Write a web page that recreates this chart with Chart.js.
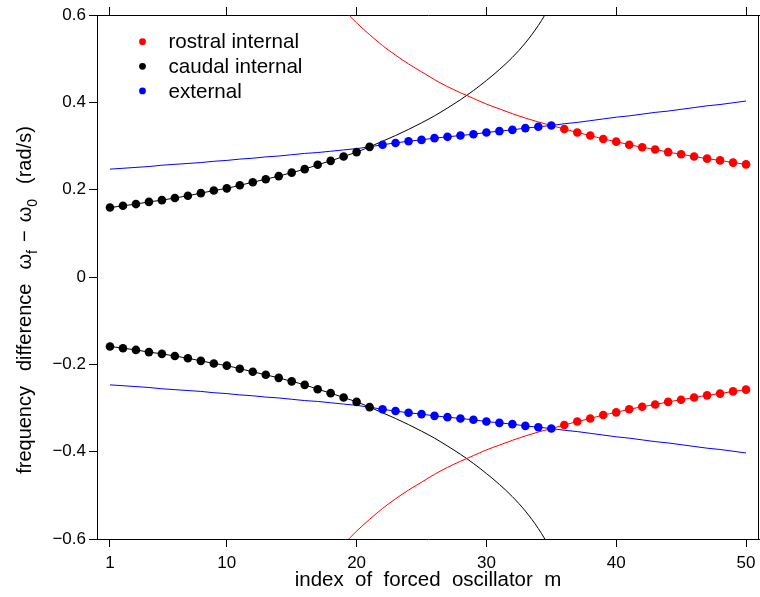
<!DOCTYPE html>
<html>
<head>
<meta charset="utf-8">
<title>frequency difference vs forced oscillator index</title>
<script src="https://cdn.jsdelivr.net/npm/chart.js@4.4.1/dist/chart.umd.min.js"></script>
<style>
  html, body { margin: 0; padding: 0; background: #fff; }
  #wrap { width: 760px; height: 597px; }
</style>
</head>
<body>
<div id="wrap"><canvas id="freqChart" width="760" height="597"></canvas></div>
<script>
'use strict';

// index of forced oscillator
var mIndex = [1,2,3,4,5,6,7,8,9,10,11,12,13,14,15,16,17,18,19,20,21,22,23,24,25,
              26,27,28,29,30,31,32,33,34,35,36,37,38,39,40,41,42,43,44,45,46,47,48,49,50];

// caudal internal branch, m = 1..35
var caudalUpper = [0.159,0.163,0.167,0.172,0.176,0.181,0.186,0.192,0.198,0.203,
                   0.210,0.217,0.224,0.231,0.239,0.247,0.257,0.266,0.276,0.286,
                   0.298,0.311,0.324,0.338,0.353,0.369,0.387,0.406,0.427,0.450,
                   0.475,0.503,0.536,0.576,0.625];
var caudalLower = [-0.159,-0.163,-0.167,-0.172,-0.176,-0.181,-0.186,-0.192,-0.198,-0.203,
                   -0.210,-0.217,-0.224,-0.231,-0.239,-0.247,-0.257,-0.266,-0.276,-0.286,
                   -0.298,-0.311,-0.324,-0.338,-0.353,-0.369,-0.387,-0.406,-0.427,-0.450,
                   -0.475,-0.503,-0.536,-0.576,-0.625];

// external branch, m = 1..50
var externalUpper = [0.247,0.249,0.251,0.253,0.256,0.258,0.260,0.262,0.265,0.267,
                     0.270,0.272,0.275,0.277,0.280,0.283,0.285,0.288,0.291,0.294,
                     0.298,0.303,0.307,0.311,0.314,0.318,0.321,0.324,0.327,0.331,
                     0.334,0.337,0.341,0.344,0.347,0.351,0.354,0.358,0.362,0.366,
                     0.369,0.373,0.377,0.380,0.384,0.388,0.392,0.395,0.399,0.403];
var externalLower = [-0.247,-0.249,-0.251,-0.253,-0.256,-0.258,-0.260,-0.262,-0.265,-0.267,
                     -0.270,-0.272,-0.275,-0.277,-0.280,-0.283,-0.285,-0.288,-0.291,-0.294,
                     -0.298,-0.303,-0.307,-0.311,-0.314,-0.318,-0.321,-0.324,-0.327,-0.331,
                     -0.334,-0.337,-0.341,-0.344,-0.347,-0.351,-0.354,-0.358,-0.362,-0.366,
                     -0.369,-0.373,-0.377,-0.380,-0.384,-0.388,-0.392,-0.395,-0.399,-0.403];

// rostral internal branch, m = 19..50
var rostralStart = 19;
var rostralUpper = [0.612,0.582,0.555,0.530,0.508,0.488,0.470,0.452,0.436,0.422,
                    0.409,0.396,0.385,0.374,0.364,0.355,0.347,0.339,0.331,0.324,
                    0.316,0.310,0.303,0.297,0.292,0.286,0.281,0.276,0.271,0.267,
                    0.262,0.258];
var rostralLower = [-0.612,-0.582,-0.555,-0.530,-0.508,-0.488,-0.470,-0.452,-0.436,-0.422,
                    -0.409,-0.396,-0.385,-0.374,-0.364,-0.355,-0.347,-0.339,-0.331,-0.324,
                    -0.316,-0.310,-0.303,-0.297,-0.292,-0.286,-0.281,-0.276,-0.271,-0.267,
                    -0.262,-0.258];

// which m values carry a dot for each branch
var caudalDots = [1, 21];
var externalDots = [22, 35];
var rostralDots = [36, 50];

// axis ticks
var xTicks = [1, 10, 20, 30, 40, 50];
var yTicks = [-0.6, -0.4, -0.2, 0, 0.2, 0.4, 0.6];

var seriesNames = ['rostral internal', 'caudal internal', 'external'];
var seriesColors = ['#ff0000', '#000000', '#0000ff'];

var FONT = '"Liberation Sans", Arial, Helvetica, sans-serif';

/*
 * turn a value list into {x, y} points, starting at index "start"
 */
function toPoints(start, values){
    var pts = [];
    for(var i = 0; i < values.length; i++){
        pts.push({x: mIndex[start - 1 + i], y: values[i]});
    }
    return pts;
}

function pickDots(points, range){
    return points.filter(function(p){ return p.x >= range[0] && p.x <= range[1]; });
}

function curve(points, color){
    return {
        type: 'scatter',
        data: points,
        showLine: true,
        borderColor: color,
        borderWidth: 1,
        pointRadius: 0,
        cubicInterpolationMode: 'monotone',
        order: 2
    };
}

function dots(points, color){
    return {
        type: 'scatter',
        data: points,
        showLine: false,
        backgroundColor: color,
        borderColor: color,
        pointRadius: 4.3,
        pointBorderWidth: 0,
        pointHoverRadius: 4.3,
        order: 1
    };
}

var cU = toPoints(1, caudalUpper), cL = toPoints(1, caudalLower);
var eU = toPoints(1, externalUpper), eL = toPoints(1, externalLower);
var rU = toPoints(rostralStart, rostralUpper), rL = toPoints(rostralStart, rostralLower);

var datasets = [
    curve(rU, seriesColors[0]), curve(rL, seriesColors[0]),
    curve(cU, seriesColors[1]), curve(cL, seriesColors[1]),
    curve(eU, seriesColors[2]), curve(eL, seriesColors[2]),
    dots(pickDots(rU, rostralDots), seriesColors[0]), dots(pickDots(rL, rostralDots), seriesColors[0]),
    dots(pickDots(cU, caudalDots), seriesColors[1]), dots(pickDots(cL, caudalDots), seriesColors[1]),
    dots(pickDots(eU, externalDots), seriesColors[2]), dots(pickDots(eL, externalDots), seriesColors[2])
];

// right frame line, legend inside the plot, y title with subscripts
var decorPlugin = {
    id: 'decor',
    afterDraw: function(chart){
        var ctx = chart.ctx;
        var a = chart.chartArea;
        ctx.save();

        // right edge of the box
        ctx.strokeStyle = '#000';
        ctx.lineWidth = 1;
        ctx.beginPath();
        ctx.moveTo(Math.round(a.right) - 0.5, a.top);
        ctx.lineTo(Math.round(a.right) - 0.5, a.bottom);
        ctx.stroke();

        // legend
        ctx.font = '20.6px ' + FONT;
        ctx.textBaseline = 'middle';
        ctx.textAlign = 'left';
        for(var i = 0; i < seriesNames.length; i++){
            var ly = 41.7 + i * 24.6;
            ctx.fillStyle = seriesColors[i];
            ctx.beginPath();
            ctx.arc(142.5, ly, 3.4, 0, Math.PI * 2);
            ctx.fill();
            ctx.fillStyle = '#000';
            ctx.fillText(seriesNames[i], 168.5, ly + 1);
        }

        // y axis title, rotated, with subscripts
        var parts = [
            {t: 'frequency', sub: false, gap: 15},
            {t: 'difference', sub: false, gap: 14},
            {t: '\u03c9', sub: false, gap: 0},
            {t: 'f', sub: true, gap: 8},
            {t: '\u2212', sub: false, gap: 8},
            {t: '\u03c9', sub: false, gap: 0},
            {t: '0', sub: true, gap: 15},
            {t: '(rad/s)', sub: false, gap: 0}
        ];
        var total = 0;
        parts.forEach(function(p){
            ctx.font = (p.sub ? '14px ' : '20px ') + FONT;
            p.w = ctx.measureText(p.t).width;
            total += p.w + p.gap;
        });
        ctx.translate(25, 300);
        ctx.rotate(-Math.PI / 2);
        ctx.fillStyle = '#000';
        ctx.textBaseline = 'middle';
        var x = -total / 2;
        parts.forEach(function(p){
            ctx.font = (p.sub ? '14px ' : '20px ') + FONT;
            ctx.fillText(p.t, x, p.sub ? 8 : 0);
            x += p.w + p.gap;
        });
        ctx.restore();
    }
};

var tickFont = {family: FONT, size: 17};

new Chart(document.getElementById('freqChart').getContext('2d'), {
    type: 'scatter',
    data: {datasets: datasets},
    options: {
        responsive: false,
        animation: false,
        devicePixelRatio: 1,
        layout: {autoPadding: false, padding: {left: 0, right: 1, top: 0, bottom: 0}},
        plugins: {
            legend: {display: false},
            tooltip: {enabled: false}
        },
        scales: {
            x: {
                type: 'linear',
                position: 'bottom',
                min: 0,
                max: 51,
                afterBuildTicks: function(scale){
                    scale.ticks = xTicks.map(function(v){ return {value: v}; });
                },
                afterFit: function(scale){
                    scale.height = 58;
                    scale.paddingLeft = 0;
                    scale.paddingRight = 0;
                },
                ticks: {font: tickFont, color: '#000', padding: 6, maxRotation: 0, autoSkip: false},
                grid: {drawOnChartArea: false, drawTicks: true, tickLength: 8, color: '#000', tickColor: '#000'},
                border: {display: true, color: '#000', width: 1},
                title: {
                    display: true,
                    text: 'index  of  forced  oscillator  m',
                    font: {family: FONT, size: 20.5},
                    color: '#000',
                    padding: {top: 0, bottom: 4}
                }
            },
            xTop: {
                type: 'linear',
                position: 'top',
                min: 0,
                max: 51,
                afterBuildTicks: function(scale){
                    scale.ticks = xTicks.map(function(v){ return {value: v}; });
                },
                afterFit: function(scale){
                    scale.height = 15;
                    scale.paddingLeft = 0;
                    scale.paddingRight = 0;
                },
                ticks: {display: false},
                grid: {drawOnChartArea: false, drawTicks: true, tickLength: 8, color: '#000', tickColor: '#000'},
                border: {display: true, color: '#000', width: 1}
            },
            y: {
                type: 'linear',
                position: 'left',
                min: -0.6,
                max: 0.6,
                afterBuildTicks: function(scale){
                    scale.ticks = yTicks.map(function(v){ return {value: v}; });
                },
                afterFit: function(scale){
                    scale.width = 97;
                    scale.paddingTop = 0;
                    scale.paddingBottom = 0;
                },
                ticks: {
                    font: tickFont,
                    color: '#000',
                    padding: 3,
                    callback: function(v){
                        if(Math.abs(v) < 1e-9) return '0';
                        return (v < 0 ? '\u2212' : '') + Math.abs(v).toFixed(1);
                    }
                },
                grid: {drawOnChartArea: false, drawTicks: true, tickLength: 8, color: '#000', tickColor: '#000'},
                border: {display: true, color: '#000', width: 1}
            }
        }
    },
    plugins: [decorPlugin]
});
</script>
</body>
</html>
